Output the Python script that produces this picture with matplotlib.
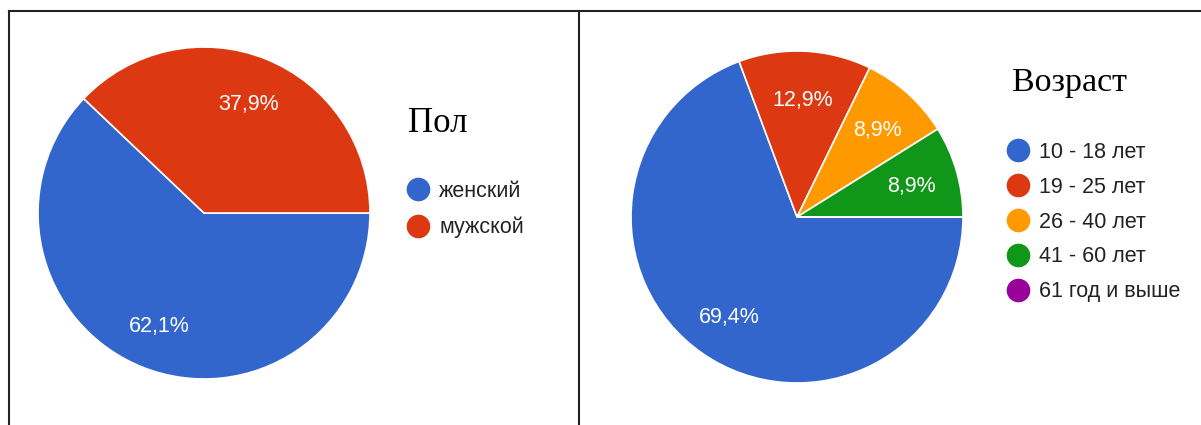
import matplotlib
import matplotlib.pyplot as plt
from matplotlib.lines import Line2D

matplotlib.use("Agg")

# данные
genderLabels = ["женский", "мужской"]
genderValues = [62.1, 37.9]
genderColors = ["#3366CC", "#DC3912"]

ageLabels = ["10 - 18 лет", "19 - 25 лет", "26 - 40 лет", "41 - 60 лет", "61 год и выше"]
ageValues = [69.4, 12.9, 8.9, 8.9, 0.0]
ageColors = ["#3366CC", "#DC3912", "#FF9900", "#109618", "#990099"]

W, H = 1201, 425
fig = plt.figure(figsize=(W / 100, H / 100), dpi=100)
fig.patch.set_facecolor("white")


def _box(x0, y0, size):
    """пиксели -> доли фигуры"""
    return [x0 / W, 1 - (y0 + size) / H, size / W, size / H]


def _drawPie(rect, values, colors, labels, title, titleXY, titleSize, legendXY, spacing):
    total = sum(values)

    def _pctFmt(p):
        # подпись = исходное значение (сумма не ровно 100)
        v = p * total / 100
        return f"{v:.1f}%".replace(".", ",") if v > 0.5 else ""

    ax = fig.add_axes(rect)
    _, _, autotexts = ax.pie(
        values,
        colors=colors,
        startangle=0,
        counterclock=False,
        autopct=_pctFmt,
        pctdistance=0.72,
        wedgeprops=dict(edgecolor="white", linewidth=1.2),
        textprops=dict(color="white", fontsize=15.5, family="Liberation Sans"),
    )
    for t in autotexts:
        t.set_va("center_baseline")
    ax.set_xlim(-1, 1)
    ax.set_ylim(-1, 1)
    ax.set_aspect("equal")
    ax.axis("off")

    fig.text(titleXY[0] / W, 1 - titleXY[1] / H, title, family="Liberation Serif",
             fontsize=titleSize, color="black", va="baseline")

    handles = [
        Line2D([], [], marker="o", linestyle="none", markersize=16,
               markerfacecolor=c, markeredgecolor=c)
        for c in colors
    ]
    ax.legend(handles, labels, loc="upper left",
              bbox_to_anchor=(legendXY[0] / W, 1 - legendXY[1] / H),
              bbox_transform=fig.transFigure, frameon=False,
              borderpad=0, borderaxespad=0, handlelength=1.0,
              handletextpad=0.5, labelspacing=spacing,
              prop=dict(family="Liberation Sans", size=15.5),
              labelcolor="#222222")
    return ax


_drawPie(_box(38, 47, 332), genderValues, genderColors, genderLabels,
         "Пол", (408, 132), 25, (407, 181), 0.69)
_drawPie(_box(631, 51, 332), ageValues, ageColors, ageLabels,
         "Возраст", (1012, 91), 24.5, (1007, 142), 0.64)

# рамки
for xs, ys in [((9, 9), (11, H)), ((9, W), (11, 11)), ((579, 579), (11, H))]:
    fig.add_artist(Line2D([x / W for x in xs], [1 - y / H for y in ys],
                          color="#222222", linewidth=1.5,
                          transform=fig.transFigure))

fig.savefig("out.png", dpi=100)
